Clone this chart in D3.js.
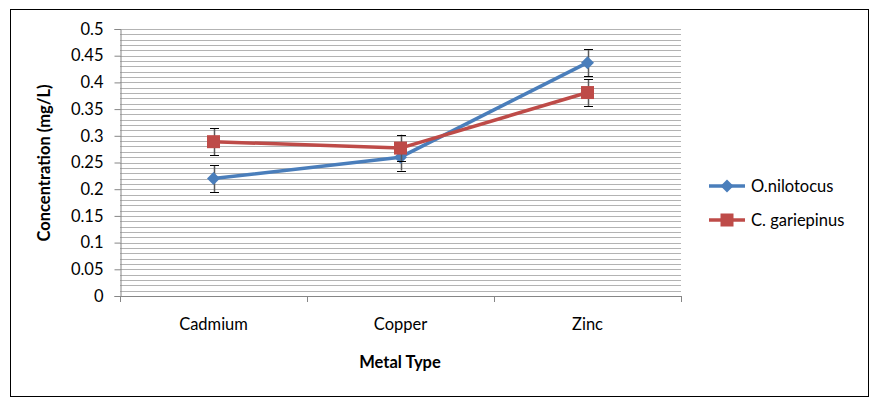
<!DOCTYPE html>
<html>
<head>
<meta charset="utf-8">
<script src="https://cdn.jsdelivr.net/npm/d3@7"></script>
<style>
  body { margin: 0; background: #fff; }
  svg text { font-family: Lato, "Open Sans", sans-serif; fill: #000; }
</style>
</head>
<body>
<div id="chart"></div>
<script>
// chart data
const metals = ['Cadmium', 'Copper', 'Zinc'];
const seriesNames = ['O.nilotocus', 'C. gariepinus'];
const nilotocus = [0.220, 0.260, 0.437];
const gariepinus = [0.289, 0.277, 0.381];
const nilotocusErr = [0.025, 0.025, 0.025];
const gariepinusErr = [0.025, 0.025, 0.025];
const yTicks = [0, 0.05, 0.1, 0.15, 0.2, 0.25, 0.3, 0.35, 0.4, 0.45, 0.5];

const width = 879;
const height = 407;
const plot = { left: 120, right: 681, top: 29, bottom: 296 };
const fontSize = '16.5px';

const svg = d3.select('#chart')
    .append('svg')
    .attr('width', width)
    .attr('height', height);

// outer chart border
svg.append('rect')
    .attr('x', 10.5).attr('y', 9.5)
    .attr('width', 858).attr('height', 387)
    .attr('fill', '#fff')
    .attr('stroke', '#000')
    .attr('stroke-width', 1);

// scales
const xScale = d3.scaleBand()
    .domain(metals)
    .range([plot.left, plot.right]);

const yScale = d3.scaleLinear()
    .domain([0, 0.5])
    .range([plot.bottom, plot.top]);

// minor gridlines every 0.01
const gridVals = d3.range(1, 51).map(d => d / 100);
svg.append('g')
    .selectAll('line')
    .data(gridVals)
    .enter().append('line')
    .attr('x1', plot.left)
    .attr('x2', plot.right)
    .attr('y1', d => Math.round(yScale(d)) + 0.5)
    .attr('y2', d => Math.round(yScale(d)) + 0.5)
    .attr('stroke', '#b3b3b3')
    .attr('stroke-width', 1);

// y axis
const yAxis = svg.append('g')
    .attr('transform', `translate(${plot.left + 0.5},0)`)
    .call(d3.axisLeft(yScale).tickValues(yTicks).tickFormat(d3.format('')).tickSize(6).tickPadding(11));
yAxis.select('.domain').attr('stroke', '#868686');
yAxis.selectAll('.tick line').attr('stroke', '#868686');
yAxis.selectAll('.tick text').style('font-size', fontSize);

// x axis
const xAxis = svg.append('g')
    .attr('transform', `translate(0,${plot.bottom + 0.5})`)
    .call(d3.axisBottom(xScale).tickSize(0).tickPadding(22));
xAxis.select('.domain').attr('stroke', '#868686').attr('d', `M${plot.left},0H${plot.right}`);
xAxis.selectAll('.tick text').style('font-size', fontSize);

// category boundary ticks
const bounds = [xScale(metals[0])].concat(metals.map(m => xScale(m) + xScale.bandwidth()));
svg.append('g')
    .selectAll('line')
    .data(bounds)
    .enter().append('line')
    .attr('x1', d => Math.round(d) + 0.5)
    .attr('x2', d => Math.round(d) + 0.5)
    .attr('y1', plot.bottom)
    .attr('y2', plot.bottom + 6)
    .attr('stroke', '#868686');

// axis titles
svg.append('text')
    .attr('x', 400)
    .attr('y', 368)
    .attr('text-anchor', 'middle')
    .style('font-size', fontSize)
    .style('font-weight', 'bold')
    .text('Metal Type');

svg.append('text')
    .attr('transform', 'translate(50,163) rotate(-90)')
    .attr('text-anchor', 'middle')
    .style('font-size', fontSize)
    .style('font-weight', 'bold')
    .text('Concentration (mg/L)');

const series = [
    { name: seriesNames[0], values: nilotocus, err: nilotocusErr, color: '#4a7ebb', marker: 'diamond' },
    { name: seriesNames[1], values: gariepinus, err: gariepinusErr, color: '#be4b48', marker: 'square' }
];

const cx = m => xScale(m) + xScale.bandwidth() / 2;

const line = d3.line()
    .x((d, i) => cx(metals[i]))
    .y(d => yScale(d));

function drawMarker(g, type, x, y, color) {
    if (type === 'diamond') {
        const r = 6.5;
        g.append('path')
            .attr('d', `M${x},${y - r}L${x + r},${y}L${x},${y + r}L${x - r},${y}Z`)
            .attr('fill', color);
    } else {
        g.append('rect')
            .attr('x', x - 6.5).attr('y', y - 6.5)
            .attr('width', 13).attr('height', 13)
            .attr('fill', color);
    }
}

series.forEach(s => {
    const g = svg.append('g');
    g.append('path')
        .datum(s.values)
        .attr('d', line)
        .attr('fill', 'none')
        .attr('stroke', s.color)
        .attr('stroke-width', 3.5)
        .attr('stroke-linejoin', 'round');

    // error bars
    s.values.forEach((v, i) => {
        const x = Math.round(cx(metals[i])) + 0.5;
        const y1 = yScale(v + s.err[i]);
        const y2 = yScale(v - s.err[i]);
        g.append('line').attr('x1', x).attr('x2', x).attr('y1', y1).attr('y2', y2)
            .attr('stroke', '#595959').attr('stroke-width', 1.5);
        [y1, y2].forEach(yy => {
            g.append('line').attr('x1', x - 4.5).attr('x2', x + 4.5)
                .attr('y1', Math.round(yy) + 0.5).attr('y2', Math.round(yy) + 0.5)
                .attr('stroke', '#000').attr('stroke-width', 1);
        });
    });

    s.values.forEach((v, i) => drawMarker(g, s.marker, cx(metals[i]), yScale(v), s.color));
});

// legend
const legend = svg.append('g');
series.forEach((s, i) => {
    const y = 186 + i * 34;
    legend.append('line')
        .attr('x1', 709).attr('x2', 745)
        .attr('y1', y).attr('y2', y)
        .attr('stroke', s.color).attr('stroke-width', 3.5);
    drawMarker(legend, s.marker, 727, y, s.color);
    legend.append('text')
        .attr('x', 751)
        .attr('y', y + 6)
        .style('font-size', fontSize)
        .text(s.name);
});
</script>
</body>
</html>
